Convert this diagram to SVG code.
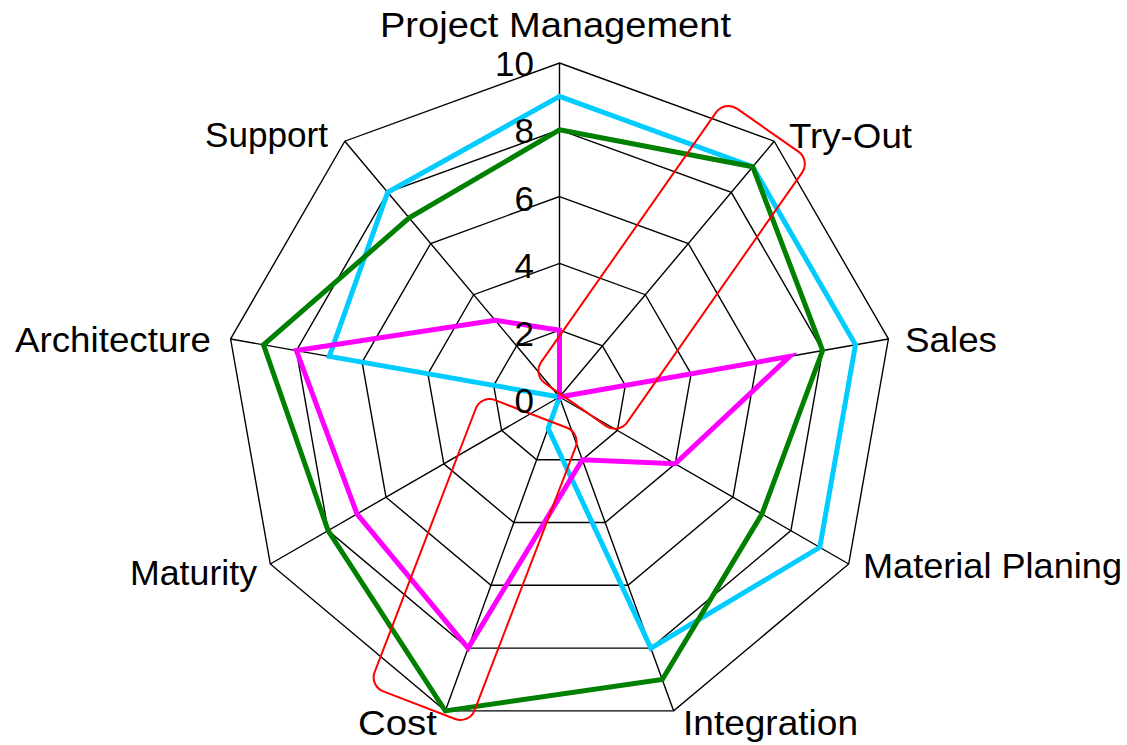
<svg xmlns="http://www.w3.org/2000/svg" width="1127" height="745" viewBox="0 0 1127 745">
<style>
.grid{fill:none;stroke:#000;stroke-width:1.4}
.s{fill:none;stroke-width:5;stroke-linejoin:miter}
.lbl{font-family:"Liberation Sans",Arial,sans-serif;font-size:35px;fill:#000}
.tick{font-family:"Liberation Sans",Arial,sans-serif;font-size:35px;fill:#000;text-anchor:end}
.hl{fill:none;stroke:#ff0000;stroke-width:2}
</style>
<rect x="0" y="0" width="1127" height="745" fill="#fff"/>
<g id="grid">
<polygon class="grid" points="559.5,63 774.2,141.2 888.4,339 848.7,564 673.7,710.9 445.3,710.9 270.3,564 230.6,339 344.8,141.2"/>
<polygon class="grid" points="559.5,129.8 731.3,192.3 822.6,350.6 790.9,530.6 650.9,648.1 468.1,648.1 328.1,530.6 296.4,350.6 387.7,192.3"/>
<polygon class="grid" points="559.5,196.6 688.3,243.5 756.9,362.2 733,497.2 628,585.3 491,585.3 386,497.2 362.1,362.2 430.7,243.5"/>
<polygon class="grid" points="559.5,263.4 645.4,294.7 691.1,373.8 675.2,463.8 605.2,522.5 513.8,522.5 443.8,463.8 427.9,373.8 473.6,294.7"/>
<polygon class="grid" points="559.5,330.2 602.4,345.8 625.3,385.4 617.4,430.4 582.3,459.8 536.7,459.8 501.6,430.4 493.7,385.4 516.6,345.8"/>
<path class="grid" d="M559.5,397L559.5,63M559.5,397L774.2,141.2M559.5,397L888.4,339M559.5,397L848.7,564M559.5,397L673.7,710.9M559.5,397L445.3,710.9M559.5,397L270.3,564M559.5,397L230.6,339M559.5,397L344.8,141.2"/>
</g>
<g id="connectors">
<polygon id="series-cyan" class="s" stroke="#00ccff" points="559.5,96.4 752.7,166.7 855.5,344.8 819.8,547.3 650.9,648.1 548.1,428.4 559.5,397 329.3,356.4 387.7,192.3"/>
<polygon id="series-green" class="s" stroke="#008000" points="559.5,129.8 752.7,166.7 822.6,350.6 762,513.9 662.3,679.5 445.3,710.9 328.1,530.6 263.5,344.8 409.2,217.9"/>
<polygon id="series-magenta" class="s" stroke="#ff00ff" points="559.5,330.2 559.5,397 789.7,356.4 675.2,463.8 582.3,459.8 468.1,648.1 357,513.9 296.4,350.6 495.1,320.2"/>
</g>
<g id="highlight-tryout">
<rect class="hl" x="-35" y="-338" width="105" height="335" rx="15" transform="translate(559.5,397) rotate(35)"/>
</g>
<g id="highlight-cost">
<rect class="hl" x="-74" y="26" width="107" height="312" rx="15" transform="translate(559.5,397) rotate(21)"/>
</g>
<g id="ticks">
<text class="tick" x="534" y="76">10</text>
<text class="tick" x="534" y="143">8</text>
<text class="tick" x="534" y="211">6</text>
<text class="tick" x="534" y="278">4</text>
<text class="tick" x="534" y="346">2</text>
<text class="tick" x="534" y="413">0</text>
</g>
<g id="axis-labels">
<text id="lbl-pm" class="lbl" x="380" y="37" textLength="351" lengthAdjust="spacingAndGlyphs">Project Management</text>
<text id="lbl-tryout" class="lbl" x="789" y="148" textLength="123" lengthAdjust="spacingAndGlyphs">Try-Out</text>
<text id="lbl-sales" class="lbl" x="905" y="352" textLength="92" lengthAdjust="spacingAndGlyphs">Sales</text>
<text id="lbl-mp" class="lbl" x="863" y="578" textLength="259" lengthAdjust="spacingAndGlyphs">Material Planing</text>
<text id="lbl-int" class="lbl" x="683" y="735" textLength="175" lengthAdjust="spacingAndGlyphs">Integration</text>
<text id="lbl-cost" class="lbl" x="358" y="735" textLength="79" lengthAdjust="spacingAndGlyphs">Cost</text>
<text id="lbl-mat" class="lbl" x="130" y="585" textLength="127" lengthAdjust="spacingAndGlyphs">Maturity</text>
<text id="lbl-arch" class="lbl" x="15" y="352" textLength="196" lengthAdjust="spacingAndGlyphs">Architecture</text>
<text id="lbl-sup" class="lbl" x="205" y="147" textLength="123" lengthAdjust="spacingAndGlyphs">Support</text>
</g>
</svg>
